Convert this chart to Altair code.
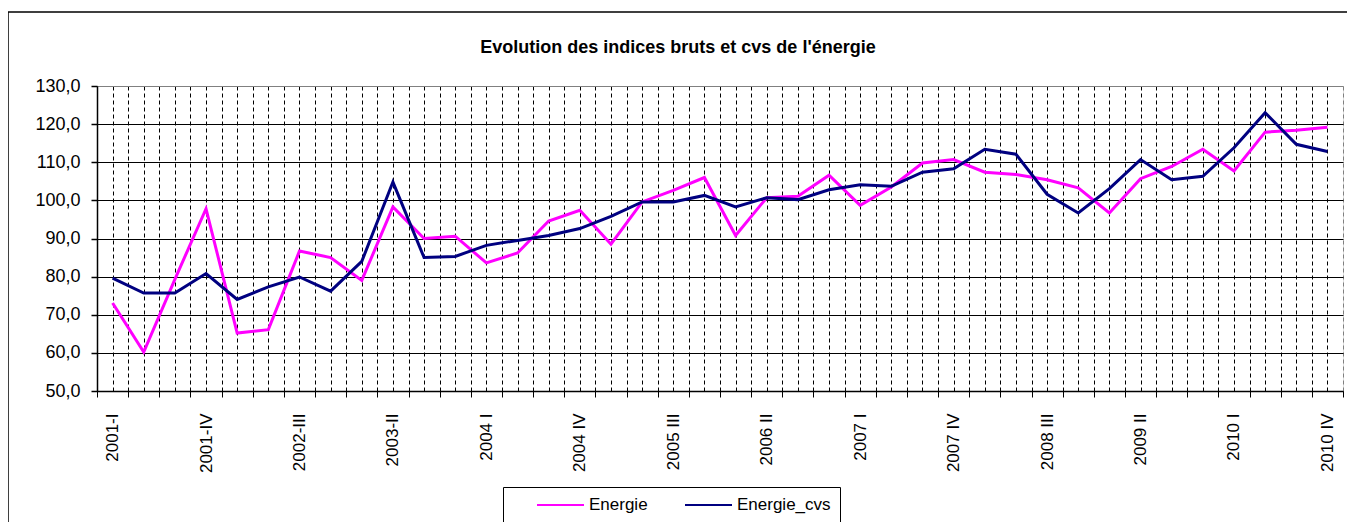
import json
import altair as alt
import pandas as pd

# ---------------- data ----------------
quarters = []
roman = ["I", "II", "III", "IV"]
for year in range(2001, 2011):
    sep = "-" if year <= 2003 else " "
    for r in roman:
        quarters.append(f"{year}{sep}{r}")

energie = [73.1, 60.2, 79.3, 97.8, 65.2, 66.1, 86.7, 85.0, 79.0, 98.3,
           90.0, 90.6, 83.6, 86.2, 94.6, 97.4, 88.5, 99.6, 102.6, 106.0,
           90.8, 100.7, 101.1, 106.6, 98.7, 103.5, 109.8, 110.7, 107.4, 106.8,
           105.4, 103.3, 96.7, 105.7, 108.9, 113.4, 107.7, 117.9, 118.4, 119.2]

energie_cvs = [79.6, 75.7, 75.7, 80.8, 74.0, 77.3, 79.9, 76.2, 84.0, 104.8,
               85.0, 85.3, 88.2, 89.5, 90.8, 92.6, 95.8, 99.6, 99.6, 101.3,
               98.3, 100.7, 100.2, 102.8, 104.1, 103.7, 107.4, 108.3, 113.4, 112.1,
               101.6, 96.7, 103.1, 110.7, 105.4, 106.3, 113.8, 123.0, 114.7, 112.8]

series_names = ["Energie", "Energie_cvs"]
series_colors = ["#FF00FF", "#000080"]
y_ticks = [50, 60, 70, 80, 90, 100, 110, 120, 130]
label_step = 3
title_text = "Evolution des indices bruts et cvs de l'énergie"

# ---------------- table ----------------
rows = []
for i, q in enumerate(quarters):
    rows.append({"idx": i, "quarter": q, "serie": series_names[0], "value": energie[i]})
    rows.append({"idx": i, "quarter": q, "serie": series_names[1], "value": energie_cvs[i]})
df = pd.DataFrame(rows)

n = len(quarters)
half_steps = [k / 2 for k in range(-1, 2 * n)]
label_expr = (
    f"(datum.value % 1 == 0 && datum.value % {label_step} == 0) ? "
    f"{json.dumps(quarters)}[datum.value] : ''"
)

FONT = "Liberation Sans"

# legend line symbol: 47px long stroke drawn to the right of the symbol slot
sym_d = 16
sym_len = 47
sym_path = f"M-1,0L{2 * sym_len / sym_d - 1:.4f},0"

x_enc = alt.X(
    "idx:Q",
    scale=alt.Scale(domain=[-0.5, n - 0.5], nice=False, zero=False),
    axis=alt.Axis(
        values=half_steps,
        title=None,
        labelExpr=label_expr,
        labelAngle=270,
        labelAlign="right",
        labelBaseline="middle",
        labelFont=FONT,
        labelFontSize=17,
        labelColor="black",
        labelPadding=16,
        labelOverlap=False,
        labelFlush=False,
        labelBound=False,
        tickSize=6,
        tickWidth=1,
        tickColor={"condition": {"test": "datum.value % 1 != 0", "value": "black"},
                   "value": "transparent"},
        grid=True,
        gridDash=[4, 3],
        gridWidth=1,
        gridColor={"condition": {"test": "datum.value > %s" % (n - 1), "value": "#808080"},
                   "value": "black"},
        gridOpacity=1,
        domainColor="black",
        domainWidth=1.5,
    ),
)

y_enc = alt.Y(
    "value:Q",
    scale=alt.Scale(domain=[50, 130], nice=False, zero=False),
    axis=alt.Axis(
        values=y_ticks,
        title=None,
        labelExpr="replace(format(datum.value, '.1f'), '.', ',')",
        labelFont=FONT,
        labelFontSize=18,
        labelColor="black",
        labelPadding=11,
        tickSize=6,
        tickColor="black",
        tickWidth=1.5,
        grid=True,
        gridWidth=1.2,
        gridColor={"condition": {"test": "datum.value >= 130", "value": "#808080"},
                   "value": "black"},
        gridOpacity=1,
        domainColor="black",
        domainWidth=1.5,
    ),
)

color_enc = alt.Color(
    "serie:N",
    scale=alt.Scale(domain=series_names, range=series_colors),
    legend=alt.Legend(
        title=" ",
        titleOrient="left",
        titleFontSize=17,
        titleFont=FONT,
        titlePadding=24,
        orient="none",
        legendX=406,
        legendY=401,
        direction="horizontal",
        strokeColor="black",
        fillColor="white",
        padding=9,
        symbolType=sym_path,
        symbolSize=sym_d * sym_d,
        symbolStrokeWidth=2,
        labelFont=FONT,
        labelFontSize=17,
        labelColor="black",
        labelOffset=sym_len - sym_d + 4,
        columnPadding=33,
    ),
)

border = alt.Chart(alt.Data(values=[{}])).mark_rect(
    filled=False, stroke="black", strokeWidth=1.5
).encode(
    x=alt.value(-89), y=alt.value(-74), x2=alt.value(1400), y2=alt.value(700)
)

title = alt.Chart(alt.Data(values=[{"t": title_text}])).mark_text(
    font=FONT, fontSize=18, fontWeight="bold", color="black",
    align="center", baseline="alphabetic"
).encode(
    text="t:N", x=alt.value(581), y=alt.value(-33)
)

lines = alt.Chart(df).mark_line(strokeWidth=3).encode(
    x=x_enc,
    y=y_enc,
    color=color_enc,
    order="idx:Q",
)

chart = alt.layer(border, lines, title).properties(
    width=1246,
    height=305,
    padding={"left": 89, "top": 78, "right": 4, "bottom": 131},
    autosize=alt.AutoSizeParams(type="none"),
).configure_view(
    stroke="#808080", strokeWidth=1.5
).configure(background="white")

chart.save("out.html", embed_options={"renderer": "svg", "actions": False})
